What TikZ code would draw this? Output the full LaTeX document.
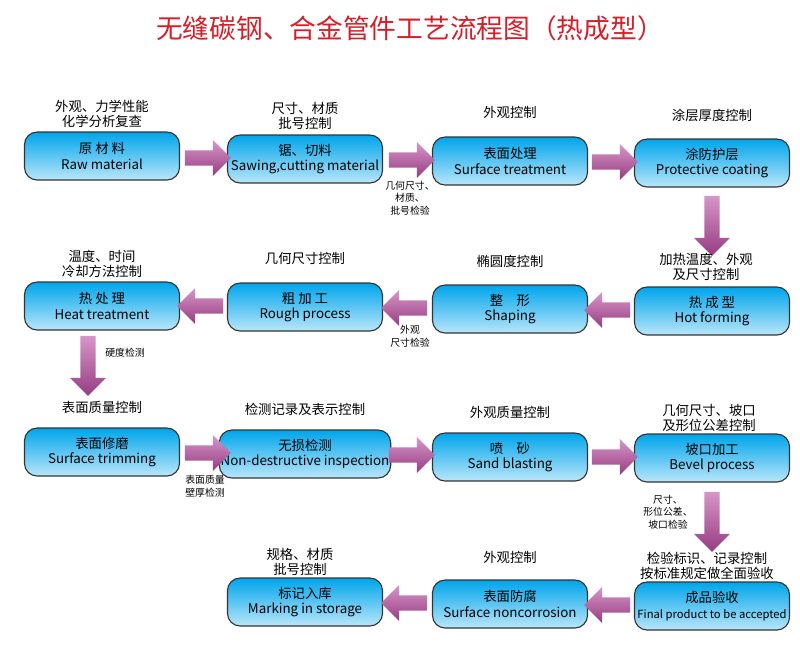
\documentclass[tikz,border=0pt]{standalone}
\usepackage{fontspec}
\setmainfont{Noto Sans CJK SC}
\usepackage{tikz}
\usetikzlibrary{shapes.arrows}
\definecolor{boxtop}{RGB}{0,165,235}
\definecolor{boxbot}{RGB}{185,230,250}
\definecolor{arrowdark}{RGB}{150,60,130}
\definecolor{arrowlight}{RGB}{215,150,200}
\definecolor{titlered}{RGB}{215,30,40}
\begin{document}
\begin{tikzpicture}
                            [x=0.025cm, y=-0.025cm,
                            stage/.style = {rounded corners=9pt,
                                        draw=black!80, thick,
                                        top color=boxtop, bottom color=boxbot,
                                        minimum width=3.875cm, minimum height=1.2cm,
                                        align=center, font=\fontsize{9.5}{11}\selectfont,
                                        inner sep=1pt},
                            fat/.style = {single arrow, draw=none,
                                        top color=arrowlight, bottom color=arrowdark,
                                        minimum height=#1, minimum width=0.9cm,
                                        single arrow head extend=3pt, inner sep=2pt},
                            note/.style = {align=center, font=\fontsize{9.5}{11}\selectfont},
                            small/.style = {align=center, font=\fontsize{7}{9}\selectfont}]
                            \useasboundingbox (0,0) rectangle (800,653);
                            % Title
                            \node[font=\fontsize{19}{22}\selectfont, text=titlered] (title) at (410,28)
                                {无缝碳钢、合金管件工艺流程图（热成型）};
                            % First row
                            \node[stage] (raw) at (102,156) {原 材 料\\Raw material};
                            \node[stage] (saw) at (305,159) {锯、切料\\Sawing,cutting material};
                            \node[stage] (surf) at (510,161) {表面处理\\Surface treatment};
                            \node[stage] (coat) at (712,163) {涂防护层\\Protective coating};
                            % Second row
                            \node[stage] (heat) at (102,306) {热 处 理\\Heat treatment};
                            \node[stage] (rough) at (305,307) {粗 加 工\\Rough process};
                            \node[stage] (shape) at (510,309) {整\quad 形\\Shaping};
                            \node[stage] (hot) at (712,311) {热 成 型\\Hot forming};
                            % Third row
                            \node[stage] (trim) at (102,452) {表面修磨\\Surface trimming};
                            \node[stage] (ndt) at (305,454) {无损检测\\Non-destructive inspection};
                            \node[stage] (sand) at (510,457) {喷\quad 砂\\Sand blasting};
                            \node[stage] (bevel) at (712,458) {坡口加工\\Bevel process};
                            % Fourth row
                            \node[stage] (store) at (305,602) {标记入库\\Marking in storage};
                            \node[stage] (nonc) at (510,604) {表面防腐\\Surface noncorrosion};
                            \node[stage, font=\fontsize{8}{11}\selectfont] (final) at (712,606)
                                {{\fontsize{9.5}{11}\selectfont 成品验收}\\Final product to be accepted};
                            % Fat arrows
                            \node[fat=1.15cm] (a1) at (204,158) {};
                            \node[fat=1.15cm] (a2) at (408,160) {};
                            \node[fat=1.15cm] (a3) at (611,162) {};
                            \node[fat=1.5cm, rotate=-90] (a4) at (712,222) {};
                            \node[fat=1.15cm, rotate=180] (a5) at (611,310) {};
                            \node[fat=1.15cm, rotate=180] (a6) at (408,308) {};
                            \node[fat=1.15cm, rotate=180] (a7) at (204,306) {};
                            \node[fat=1.5cm, rotate=-90] (a8) at (88,362) {};
                            \node[fat=1.15cm] (a9) at (204,453) {};
                            \node[fat=1.15cm] (a10) at (408,455) {};
                            \node[fat=1.15cm] (a11) at (611,457) {};
                            \node[fat=1.5cm, rotate=-90] (a12) at (712,518) {};
                            \node[fat=1.15cm, rotate=180] (a13) at (611,605) {};
                            \node[fat=1.15cm, rotate=180] (a14) at (408,603) {};
                            % Control notes
                            \node[note] (n1) at (102,114) {外观、力学性能\\化学分析复查};
                            \node[note] (n2) at (305,116) {尺寸、材质\\批号控制};
                            \node[note] (n3) at (510,112) {外观控制};
                            \node[note] (n4) at (712,115) {涂层厚度控制};
                            \node[note] (n5) at (102,264) {温度、时间\\冷却方法控制};
                            \node[note] (n6) at (305,258) {几何尺寸控制};
                            \node[note] (n7) at (510,261) {椭圆度控制};
                            \node[note] (n8) at (706,267) {加热温度、外观\\及尺寸控制};
                            \node[note] (n9) at (102,407) {表面质量控制};
                            \node[note] (n10) at (305,409) {检测记录及表示控制};
                            \node[note] (n11) at (510,412) {外观质量控制};
                            \node[note] (n12) at (709,418) {几何尺寸、坡口\\及形位公差控制};
                            \node[note] (n13) at (300,562) {规格、材质\\批号控制};
                            \node[note] (n14) at (510,557) {外观控制};
                            \node[note] (n15) at (707,566) {检验标识、记录控制\\按标准规定做全面验收};
                            % Inspection notes
                            \node[small] (s1) at (410,198) {几何尺寸、\\材质、\\批号检验};
                            \node[small] (s2) at (410,336) {外观\\尺寸检验};
                            \node[small] (s3) at (125,353) {硬度检测};
                            \node[small] (s4) at (205,486) {表面质量\\壁厚检测};
                            \node[small] (s5) at (668,512) {尺寸、\\形位公差、\\坡口检验};
                        \end{tikzpicture}
\end{document}
